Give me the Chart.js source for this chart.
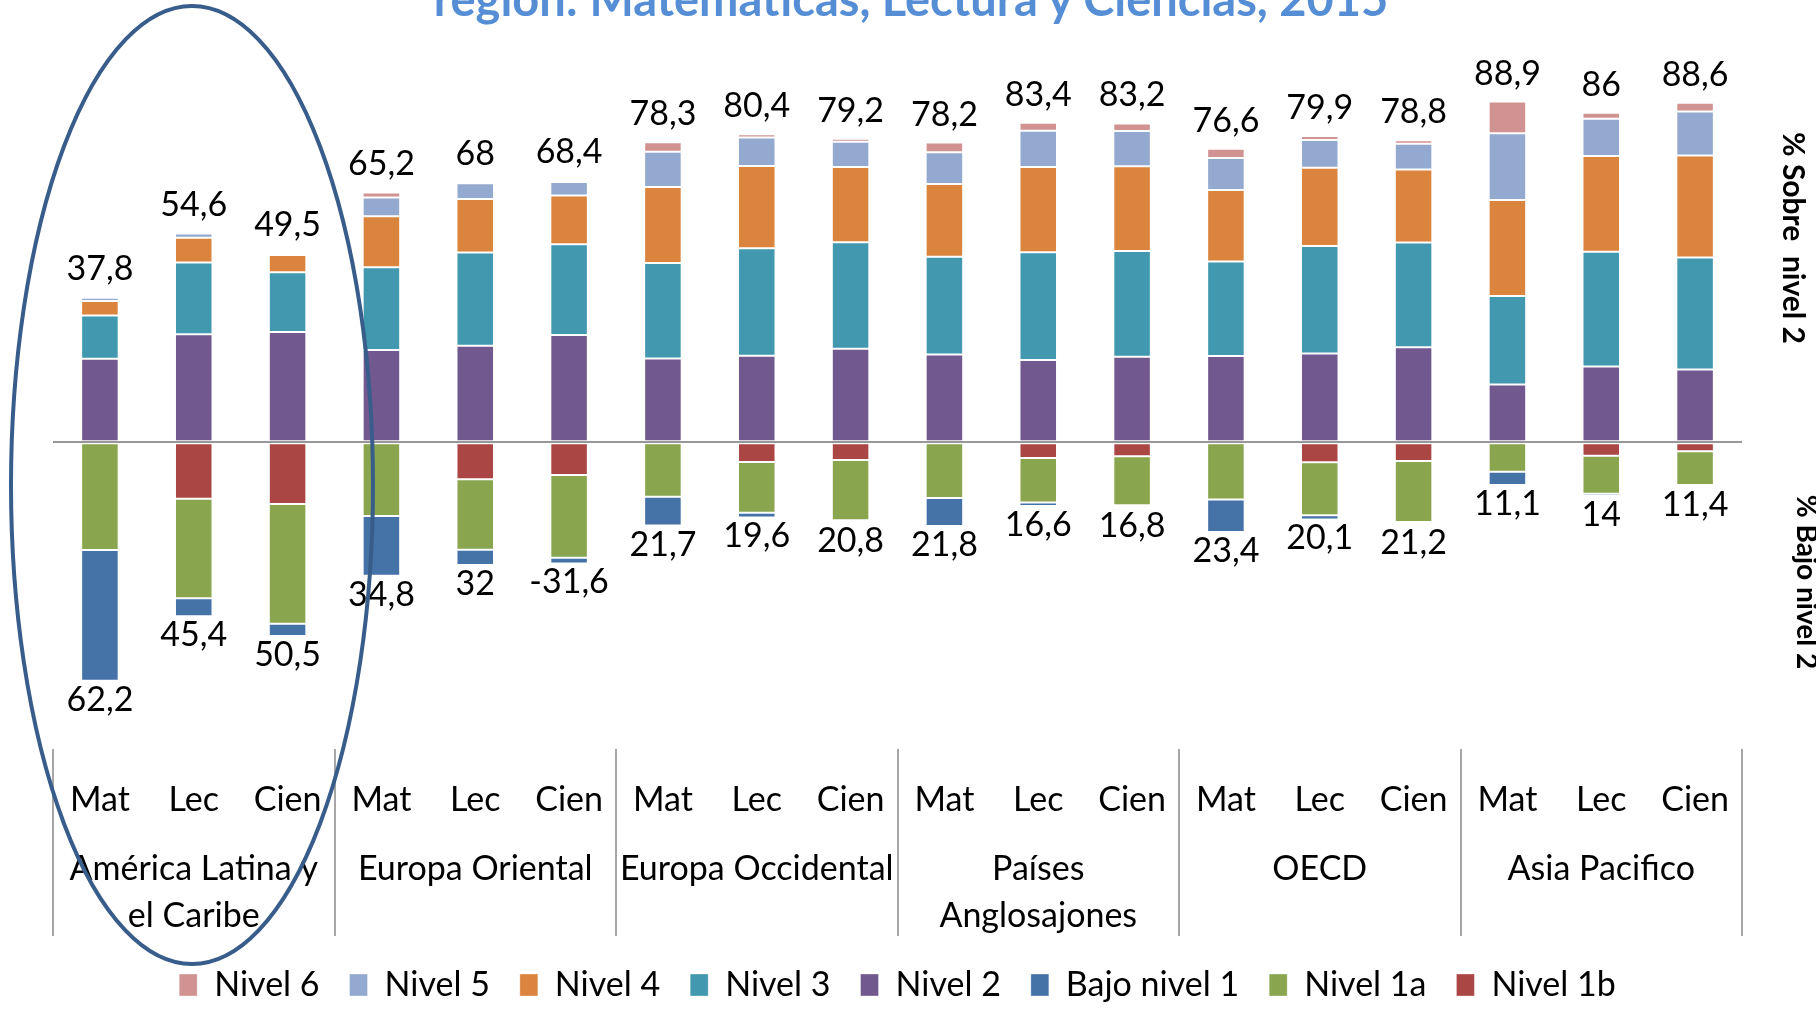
<!DOCTYPE html>
<html lang="es">
<head>
<meta charset="UTF-8">
<title>Niveles de desempeño por región: Matemáticas, Lectura y Ciencias, 2015</title>
<script src="https://cdn.jsdelivr.net/npm/chart.js"></script>
<style>
  html, body { margin: 0; padding: 0; overflow: hidden; background: #fff; }
  #wrap { position: relative; width: 1816px; height: 1009px; overflow: hidden; font-family: Lato, sans-serif; }
  #chart { position: absolute; left: 0; top: 0; }
  .titulo {
    position: absolute; left: 911px; top: -25px; transform: translateX(-50%);
    white-space: nowrap; font-weight: bold; font-size: 47px; line-height: 1; color: #558ED5;
  }
  .lado {
    position: absolute; font-weight: bold; font-size: 30px; line-height: 1; white-space: pre; color: #000;
    transform: translate(-50%, -50%) rotate(90deg);
  }
</style>
</head>
<body>
<div id="wrap">
  <canvas id="chart" width="1816" height="1009"></canvas>
  <div class="titulo">región: Matemáticas, Lectura y Ciencias, 2015</div>
  <div class="lado" style="left:1795px; top:238px;">% Sobre  nivel 2</div>
  <div class="lado" style="left:1808px; top:582px; font-size:28px;">% Bajo nivel 2</div>
</div>
<script>
  const categories = ['Mat', 'Lec', 'Cien', 'Mat', 'Lec', 'Cien', 'Mat', 'Lec', 'Cien',
                      'Mat', 'Lec', 'Cien', 'Mat', 'Lec', 'Cien', 'Mat', 'Lec', 'Cien'];
  const regions = [['América Latina y', 'el Caribe'], 'Europa Oriental', 'Europa Occidental',
                   ['Países', 'Anglosajones'], 'OECD', 'Asia Pacifico'];

  // % sobre nivel 2 (positivos)
  const nivel6 = [0.1, 0.1, 0.1, 1.3, 0.4, 0.5, 2.5, 0.9, 0.8, 2.5, 2.1, 2.0, 2.4, 1.0, 0.9, 8.3, 1.6, 2.3];
  const nivel5 = [0.8, 1.1, 0.5, 4.9, 4.1, 3.5, 9.2, 7.4, 6.6, 8.3, 9.5, 9.2, 8.4, 7.3, 6.7, 17.4, 9.7, 11.5];
  const nivel4 = [3.8, 6.5, 4.5, 13.3, 14.0, 12.7, 19.8, 21.5, 19.6, 19.0, 22.2, 22.1, 18.6, 20.4, 19.1, 25.0, 25.0, 26.6];
  const nivel3 = [11.3, 18.7, 15.6, 21.6, 24.3, 23.7, 24.9, 28.0, 27.8, 25.5, 28.1, 27.6, 24.7, 28.0, 27.3, 23.1, 29.9, 29.2];
  const nivel2 = [21.8, 28.2, 28.8, 24.1, 25.2, 28.0, 21.9, 22.6, 24.4, 22.9, 21.5, 22.3, 22.5, 23.2, 24.8, 15.1, 19.8, 19.0];
  // % bajo nivel 2 (negativos)
  const nivel1b = [null, -14.7, -16.1, null, -9.6, -8.5, null, -5.1, -4.6, null, -4.1, -3.6, null, -5.2, -4.9, null, -3.5, -2.3];
  const nivel1a = [-28.1, -26.0, -31.2, -19.2, -18.4, -21.6, -14.2, -13.3, -15.7, -14.5, -11.6, -12.8, -14.9, -13.8, -15.9, -7.7, -9.9, -8.8];
  const bajoNivel1 = [-34.1, -4.7, -3.2, -15.6, -4.0, -1.5, -7.5, -1.2, -0.5, -7.3, -0.9, -0.4, -8.5, -1.1, -0.4, -3.4, -0.6, -0.3];

  const etiquetasSobre = ['37,8', '54,6', '49,5', '65,2', '68', '68,4', '78,3', '80,4', '79,2',
                          '78,2', '83,4', '83,2', '76,6', '79,9', '78,8', '88,9', '86', '88,6'];
  const etiquetasBajo = ['62,2', '45,4', '50,5', '34,8', '32', '-31,6', '21,7', '19,6', '20,8',
                         '21,8', '16,6', '16,8', '23,4', '20,1', '21,2', '11,1', '14', '11,4'];

  const FONT = 'Lato, sans-serif';

  function serie(label, data, color) {
    return {
      label: label,
      data: data,
      backgroundColor: color,
      borderColor: 'rgba(255,255,255,0.35)',
      borderWidth: 1,
      borderSkipped: false
    };
  }

  // orden de apilado: primero lo que va pegado al cero
  const datasets = [
    serie('Nivel 1b', nivel1b, '#AA4643'),
    serie('Nivel 1a', nivel1a, '#89A54E'),
    serie('Bajo nivel 1', bajoNivel1, '#4572A7'),
    serie('Nivel 2', nivel2, '#71588F'),
    serie('Nivel 3', nivel3, '#4198AF'),
    serie('Nivel 4', nivel4, '#DB843D'),
    serie('Nivel 5', nivel5, '#93A9CF'),
    serie('Nivel 6', nivel6, '#D19392')
  ];

  const extras = {
    id: 'extras',
    beforeLayout(chart) {
      const lg = chart.legend;
      if (lg && !lg._fijo) {
        const fit = lg.fit;
        lg.fit = function () { fit.call(this); this.height = 71; };
        lg._fijo = true;
      }
    },
    afterDatasetsDraw(chart) {
      const {ctx, scales: {x, y}} = chart;
      ctx.save();
      ctx.font = '34px ' + FONT;
      ctx.fillStyle = '#000';
      ctx.textAlign = 'center';
      ctx.textBaseline = 'alphabetic';
      for (let i = 0; i < categories.length; i++) {
        let pos = 0, neg = 0;
        chart.data.datasets.forEach(ds => {
          const v = ds.data[i];
          if (v > 0) pos += v; else if (v < 0) neg += v;
        });
        const px = x.getPixelForValue(i);
        ctx.fillText(etiquetasSobre[i], px, y.getPixelForValue(pos) - 17);
        ctx.fillText(etiquetasBajo[i], px, y.getPixelForValue(neg) + 30);
      }
      ctx.restore();
    },
    afterDraw(chart) {
      const {ctx, chartArea, scales: {x}} = chart;
      ctx.save();
      // separadores de regiones
      ctx.strokeStyle = '#A6A6A6';
      ctx.lineWidth = 2;
      const paso = x.width / regions.length;
      for (let k = 0; k <= regions.length; k++) {
        const xx = Math.round(x.left + k * paso);
        ctx.beginPath();
        ctx.moveTo(xx, chartArea.bottom);
        ctx.lineTo(xx, chartArea.bottom + 187);
        ctx.stroke();
      }
      // elipse que marca América Latina
      ctx.strokeStyle = '#385D8A';
      ctx.lineWidth = 4;
      ctx.beginPath();
      ctx.ellipse(192, 485, 181, 479, 0, 0, Math.PI * 2);
      ctx.stroke();
      ctx.restore();
    }
  };

  new Chart(document.getElementById('chart'), {
    type: 'bar',
    data: { labels: categories, datasets: datasets },
    options: {
      responsive: false,
      animation: false,
      layout: { padding: { top: 59, left: 53, right: 74, bottom: 0 } },
      datasets: { bar: { categoryPercentage: 1, barPercentage: 0.4 } },
      scales: {
        x: {
          stacked: true,
          offset: true,
          grid: { display: false },
          border: { display: false },
          ticks: {
            autoSkip: false, maxRotation: 0, minRotation: 0, padding: 23,
            color: '#000', font: { family: FONT, size: 34 }
          },
          afterFit(s) { s.height = 74; }
        },
        x2: {
          type: 'category',
          position: 'bottom',
          labels: regions,
          offset: true,
          grid: { display: false },
          border: { display: false },
          ticks: {
            autoSkip: false, maxRotation: 0, minRotation: 0, padding: 15,
            color: '#000', font: { family: FONT, size: 34, lineHeight: 1.38 }
          },
          afterFit(s) { s.height = 115; }
        },
        y: {
          stacked: true,
          min: -80,
          max: 100,
          ticks: { display: false, stepSize: 20 },
          border: { display: false },
          grid: {
            z: 1,
            drawTicks: false,
            lineWidth: 2,
            color: c => (c.tick && c.tick.value === 0) ? '#989898' : 'rgba(0,0,0,0)'
          },
          afterFit(s) { s.width = 0; }
        }
      },
      plugins: {
        title: { display: false },
        tooltip: { enabled: false },
        legend: {
          position: 'bottom',
          reverse: true,
          labels: {
            boxWidth: 18,
            boxHeight: 22,
            padding: 30,
            color: '#000',
            font: { family: FONT, size: 34 }
          }
        }
      }
    },
    plugins: [extras]
  });
</script>
</body>
</html>
